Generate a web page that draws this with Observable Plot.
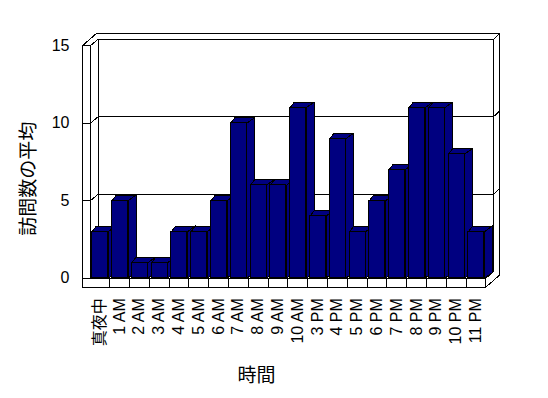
<!DOCTYPE html>
<html><head><meta charset="utf-8">
<script src="https://cdn.jsdelivr.net/npm/d3@7"></script>
<script src="https://cdn.jsdelivr.net/npm/@observablehq/plot@0.6"></script>
<style>body{margin:0;background:#fff}</style>
</head><body><div id="chart"></div>
<script>
// ---- data ----
const hours = ["真夜中","1 AM","2 AM","3 AM","4 AM","5 AM","6 AM","7 AM","8 AM","9 AM","10 AM","3 PM","4 PM","5 PM","6 PM","7 PM","8 PM","9 PM","10 PM","11 PM"];
const visits = [3,5,1,1,3,3,5,10,6,6,11,4,9,3,5,7,11,11,8,3];
const yTicks = [0,5,10,15];
const xTitle = "時間";
const yTitle = "訪問数の平均";

// ---- geometry (pixel-based 3D offsets converted to data units) ----
const W = 548, H = 398;
const n = hours.length, yMax = 15;
const X0 = 89.3, X1 = 485.3, Y0 = 277.7, Y1 = 45.2;
const kx = (X1 - X0) / n, ky = (Y0 - Y1) / yMax;
const P = (u, v, off = [0, 0]) => ({u: u + off[0] / kx, v: v - off[1] / ky});
const D1 = [7.7, -6.5], D2 = [14, -12.3];
const uL0 = (82 - X0) / kx, uL1 = (90 - X0) / kx;
const fH = 9 / ky;
const poly = (id, pts) => [...pts, pts[0]].map(p => ({id, u: p.u, v: p.v}));

// frame polygons
const frame = [
  poly("back", [P(uL1,0,D1), P(uL1,yMax,D1), P(n,yMax,D1), P(n,0,D1)]),
  poly("top", [P(uL0,yMax), P(uL1,yMax), P(uL1,yMax,D1), P(n,yMax,D1), P(n,yMax,D2), P(uL0,yMax,D2)]),
  poly("right", [P(n,yMax,D1), P(n,yMax,D2), P(n,-fH,D2), P(n,-fH), P(n,0), P(n,0,D1)]),
  poly("leftInner", [P(uL1,0), P(uL1,yMax), P(uL1,yMax,D1), P(uL1,0,D1)]),
  poly("leftFront", [P(uL0,0), P(uL0,yMax), P(uL1,yMax), P(uL1,0)]),
  poly("floorTop", [P(uL1,0), P(n,0), P(n,0,D1), P(uL1,0,D1)])
].flat();
const floorFront = poly("floorFront", [P(uL0,0), P(n,0), P(n,-fH), P(uL0,-fH)]);

const grid = yTicks.filter(t => t > 0 && t < yMax).flatMap(t =>
  [P(uL0,t), P(uL1,t), P(uL1,t,D1), P(n,t,D1), P(n,t,D2)].map(p => ({id: t, u: p.u, v: p.v})));

// bars
const bx0 = 2.4 / kx, bw = 16 / kx;
const bars = visits.map((v, i) => ({i, v, x0: i + bx0, x1: i + bx0 + bw}));
const sides = bars.flatMap(b => poly(b.i, [P(b.x1,0), P(b.x1,b.v), P(b.x1,b.v,[8,-5.7]), P(b.x1,0,[8,-5.7])]));
const tops = bars.flatMap(b => poly(b.i, [P(b.x0,b.v), P(b.x1,b.v), P(b.x1,b.v,[8,-5.7]), P(b.x0,b.v,[4.3,-5.7])]));

const navy = "#000080";
const fontFam = "'Liberation Sans', Arial, 'Noto Sans CJK JP', sans-serif";
const lineOpts = {x: "u", y: "v", z: "id", stroke: "black", strokeWidth: 1, shapeRendering: "crispEdges"};

const chart = Plot.plot({
  width: W, height: H,
  marginLeft: 82, marginRight: W - X1, marginTop: Y1, marginBottom: H - 286.7,
  style: {fontFamily: fontFam, background: "white", color: "black"},
  x: {type: "linear", domain: [0, n], range: [X0, X1]},
  y: {type: "linear", domain: [0, yMax], range: [Y0, Y1]},
  marks: [
    Plot.line(frame, {...lineOpts, fill: "white"}),
    Plot.line(grid, {...lineOpts, fill: "none"}),
    Plot.line(sides, {...lineOpts, fill: navy}),
    Plot.line(tops, {...lineOpts, fill: navy}),
    Plot.rect(bars, {x1: "x0", x2: "x1", y1: 0, y2: "v", fill: navy, stroke: "black", strokeWidth: 1, shapeRendering: "crispEdges"}),
    Plot.line(floorFront, {...lineOpts, fill: "white"}),
    Plot.ruleX(d3.range(1, n), {x: d => d, y1: 0, y2: -fH, stroke: "black", strokeWidth: 1, shapeRendering: "crispEdges"}),
    Plot.axisY({ticks: yTicks, tickSize: 0, tickPadding: 13, fontSize: 16, fill: "black", label: null, anchor: "left"}),
    Plot.axisX({ticks: d3.range(n).map(i => i + 0.5), tickFormat: d => hours[Math.floor(d)], tickSize: 0, tickPadding: 11, tickRotate: -90, fontSize: 16, fill: "black", label: null, anchor: "bottom"}),
    Plot.text([xTitle], {frameAnchor: "bottom-left", dx: 256 - 82, dy: 375 - 286.7, fontSize: 19, fill: "black", textAnchor: "middle", lineAnchor: "middle"}),
    Plot.text([yTitle], {frameAnchor: "top-left", dx: 28.3 - 82, dy: 178.3 - Y1, fontSize: 19, fill: "black", rotate: -90, textAnchor: "middle", lineAnchor: "middle"})
  ]
});
document.getElementById("chart").appendChild(chart);
</script>
</body></html>
